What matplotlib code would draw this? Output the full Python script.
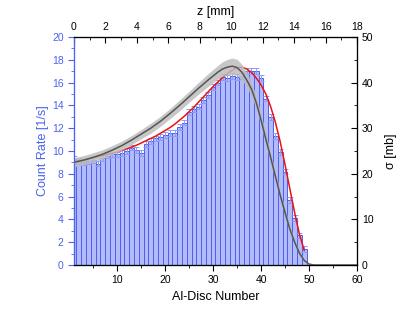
import matplotlib
matplotlib.use("Agg")
import matplotlib.pyplot as plt
import numpy as np
from matplotlib.ticker import MultipleLocator

plt.rcParams['font.family'] = ['Liberation Sans', 'DejaVu Sans']

discs = list(range(1, 50))
counts = [9.3, 9.1, 9.0, 9.1, 9.2, 8.9, 9.4, 9.6, 9.7, 9.7,
          9.8, 10.0, 10.3, 10.1, 9.8, 10.6, 10.9, 11.1, 11.2, 11.4,
          11.6, 11.6, 12.1, 12.5, 13.4, 13.7, 13.9, 14.5, 14.9, 15.6,
          16.0, 16.5, 16.4, 16.6, 16.5, 16.6, 17.0, 17.0, 17.0, 16.4,
          14.6, 13.0, 11.3, 9.9, 8.2, 5.7, 4.1, 2.6, 1.4]
count_err = [0.25] * 49

fit_counts = [9.1, 9.15, 9.2, 9.3, 9.4, 9.5, 9.6, 9.7, 9.8, 9.9,
              10.05, 10.2, 10.35, 10.5, 10.7, 10.9, 11.1, 11.3, 11.55, 11.8,
              12.05, 12.35, 12.7, 13.05, 13.45, 13.85, 14.3, 14.75, 15.2, 15.65,
              16.05, 16.45, 16.8, 17.1, 17.3, 17.35, 17.2, 16.9, 16.4, 15.8,
              15.0, 13.9, 12.5, 10.8, 8.8, 6.7, 4.6, 2.7, 1.3]

sigma_x = [1, 3, 5, 7, 9, 11, 13, 15, 17, 19, 21, 23, 25, 27, 29, 31, 32, 33, 34,
           35, 36, 37, 38, 39, 40, 41, 42, 43, 44, 45, 46, 47, 48, 49, 50, 51, 60]
sigma = [22.5, 23.0, 23.6, 24.3, 25.2, 26.2, 27.4, 28.7, 30.0, 31.5, 33.2, 35.0,
         36.9, 38.8, 40.6, 42.3, 43.0, 43.4, 43.6, 43.3, 42.3, 40.6, 38.6, 35.6,
         31.8, 27.6, 23.6, 19.4, 15.3, 11.5, 7.9, 5.0, 2.6, 1.0, 0.2, 0.0, 0.0]
sigma_err = [1.0, 1.0, 1.0, 1.0, 1.0, 1.0, 1.0, 1.0, 1.1, 1.1, 1.1, 1.2,
             1.2, 1.3, 1.4, 1.5, 1.6, 1.7, 1.8, 1.8, 1.7, 1.6, 1.5, 1.4,
             1.3, 1.2, 1.1, 1.0, 0.9, 0.8, 0.7, 0.5, 0.4, 0.3, 0.1, 0.0, 0.0]

blue = "#4a62f0"
fig = plt.figure(figsize=(4.15, 3.18), dpi=100)
ax = fig.add_axes([0.1783, 0.1667, 0.6819, 0.7169])

ax.bar(discs, counts, width=1.0, color="#b3bcf8", edgecolor="#4d5ff2", linewidth=0.7, zorder=2)
ax.errorbar(discs, counts, yerr=count_err, fmt="none", ecolor="#8e9cf3", elinewidth=0.7,
            capsize=2.2, capthick=0.7, zorder=3)
ax.plot(discs, fit_counts, color="#ee1111", lw=1.1, zorder=5)

ax.set_xlim(1, 60)
ax.set_ylim(0, 20)
ax.xaxis.set_major_locator(MultipleLocator(10))
ax.xaxis.set_minor_locator(MultipleLocator(5))
ax.yaxis.set_major_locator(MultipleLocator(2))
ax.yaxis.set_minor_locator(MultipleLocator(1))
ax.tick_params(axis="y", which="both", colors=blue, labelsize=7.5, direction="out")
ax.tick_params(axis="y", which="major", length=4)
ax.tick_params(axis="y", which="minor", length=2)
ax.tick_params(axis="x", which="both", direction="out", labelsize=7.5)
ax.tick_params(axis="x", which="major", length=4)
ax.tick_params(axis="x", which="minor", length=2)
ax.spines["left"].set_color(blue)
ax.set_xlabel("Al-Disc Number", fontsize=9, labelpad=4)
ax.set_ylabel("Count Rate [1/s]", fontsize=9, color=blue, labelpad=2)

ax2 = ax.twinx()
s = np.array(sigma)
e = np.array(sigma_err)
ax2.fill_between(sigma_x, s - e, s + e, color="#bdbdbd", alpha=0.85, lw=0, zorder=4)
ax2.plot(sigma_x, sigma, color="#555555", lw=1.1, zorder=6)
ax2.set_ylim(0, 50)
ax2.yaxis.set_major_locator(MultipleLocator(10))
ax2.yaxis.set_minor_locator(MultipleLocator(5))
ax2.tick_params(axis="y", which="both", direction="in", labelsize=7.5)
ax2.tick_params(axis="y", which="major", length=4)
ax2.tick_params(axis="y", which="minor", length=2)
ax2.set_ylabel("σ [mb]", fontsize=9, labelpad=8)
ax2.spines["left"].set_color(blue)

ax3 = ax.twiny()
ax3.set_xlim(0, 18)
ax3.xaxis.set_major_locator(MultipleLocator(2))
ax3.xaxis.set_minor_locator(MultipleLocator(1))
ax3.tick_params(axis="x", which="both", direction="in", labelsize=7.5)
ax3.tick_params(axis="x", which="major", length=4)
ax3.tick_params(axis="x", which="minor", length=2)
ax3.set_xlabel("z [mm]", fontsize=9, labelpad=5)
ax3.spines["left"].set_color(blue)

fig.savefig("out.png", dpi=100)
